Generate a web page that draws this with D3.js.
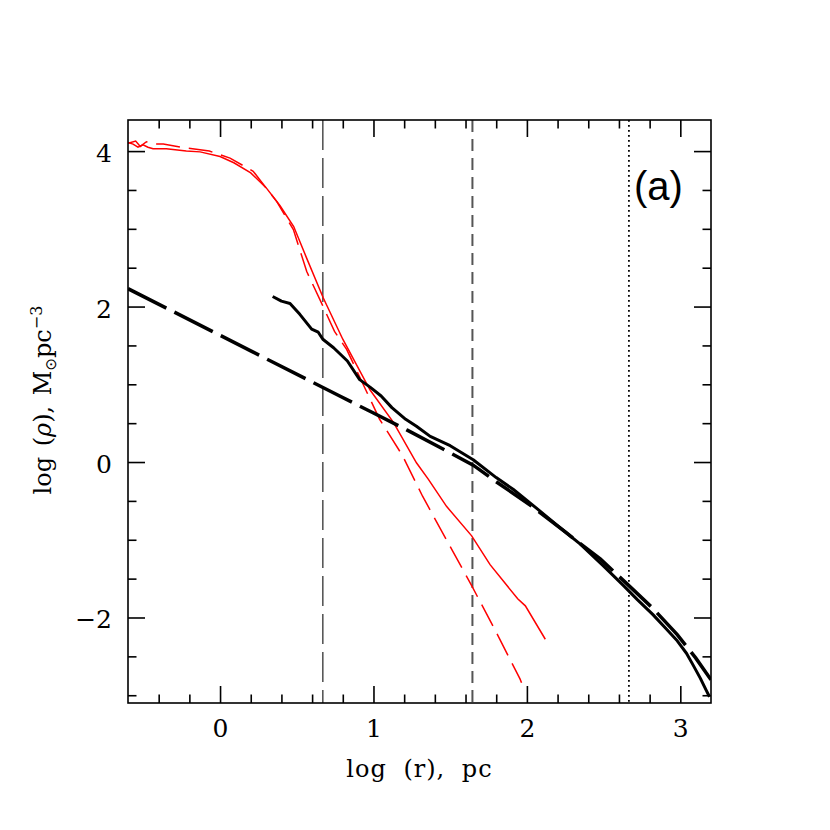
<!DOCTYPE html>
<html>
<head>
<meta charset="utf-8">
<script src="https://cdn.jsdelivr.net/npm/d3@7/dist/d3.min.js"></script>
<style>
body { margin: 0; background: #fff; }
svg text { font-family: "DejaVu Serif", serif; fill: #000; }
</style>
</head>
<body>
<svg id="chart" width="830" height="830"></svg>
<script>
// black long-dashed model profile
var modelX = [-0.6, 0.2, 0.78, 1.0, 1.22, 1.45, 1.65, 1.79, 2.04, 2.25, 2.48, 2.67, 2.82, 2.98, 3.1, 3.2];
var modelY = [2.23, 1.43, 0.85, 0.63, 0.41, 0.17, -0.04, -0.24, -0.58, -0.90, -1.25, -1.60, -1.88, -2.22, -2.52, -2.80];

// black solid profile
var blackX = [0.343, 0.40, 0.456, 0.52, 0.597, 0.64, 0.67, 0.74, 0.83, 0.91, 0.98, 1.05, 1.12, 1.21, 1.28, 1.37, 1.50, 1.65, 1.80, 1.91, 2.06, 2.2, 2.35, 2.5, 2.63, 2.72, 2.82, 2.9, 2.98, 3.04, 3.08, 3.13, 3.17, 3.19];
var blackY = [2.13, 2.07, 2.04, 1.90, 1.71, 1.67, 1.58, 1.47, 1.30, 1.06, 0.96, 0.85, 0.70, 0.55, 0.46, 0.33, 0.21, 0.03, -0.20, -0.35, -0.59, -0.82, -1.06, -1.34, -1.59, -1.77, -1.96, -2.13, -2.30, -2.46, -2.60, -2.78, -2.94, -3.02];

// red solid profile
var redX = [-0.6, -0.567, -0.535, -0.502, -0.47, -0.437, -0.35, -0.22, -0.13, 0.0, 0.09, 0.2, 0.3, 0.39, 0.48, 0.565, 0.673, 0.8, 0.977, 1.13, 1.28, 1.357, 1.476, 1.64, 1.76, 1.94, 1.99, 2.12];
var redY = [4.11, 4.09, 4.05, 4.08, 4.05, 4.03, 4.03, 4.00, 3.99, 3.93, 3.85, 3.72, 3.53, 3.30, 3.03, 2.62, 2.11, 1.58, 0.93, 0.51, -0.01, -0.22, -0.57, -0.95, -1.32, -1.76, -1.85, -2.28];

// red dashed profile
var redDashX = [-0.6, -0.55, -0.52, -0.48, -0.44, -0.37, -0.22, -0.07, 0.065, 0.216, 0.37, 0.478, 0.565, 0.66, 0.746, 0.825, 1.04, 1.19, 1.32, 1.52, 1.64, 1.80, 1.955, 1.965];
var redDashY = [4.10, 4.13, 4.06, 4.12, 4.09, 4.09, 4.04, 4.00, 3.91, 3.74, 3.35, 2.99, 2.45, 2.05, 1.68, 1.45, 0.55, 0.08, -0.44, -1.16, -1.59, -2.19, -2.79, -2.84];

// vertical reference radii
var vLines = [0.67, 1.645, 2.665];

// ticks
var xMajor = [0, 1, 2, 3];
var xMinor = [-0.4, -0.2, 0.2, 0.4, 0.6, 0.8, 1.2, 1.4, 1.6, 1.8, 2.2, 2.4, 2.6, 2.8];
var yMajor = [-2, 0, 2, 4];
var yMinor = [-3, -2.5, -1.5, -1, -0.5, 0.5, 1, 1.5, 2.5, 3, 3.5];

(function() {
var svg = d3.select("#chart");
var pl = 128, pt = 120, pr = 711, pb = 703;

var x = d3.scaleLinear().domain([-0.6, 3.2]).range([pl, pr]);
var y = d3.scaleLinear().domain([-3.1, 4.4]).range([pb, pt]);

function pts(xs, ys) { return xs.map(function(v, i) { return [v, ys[i]]; }); }
var line = d3.line().x(function(d) { return x(d[0]); }).y(function(d) { return y(d[1]); });

svg.append("defs").append("clipPath").attr("id", "clip")
    .append("rect").attr("x", pl).attr("y", pt).attr("width", pr - pl).attr("height", pb - pt);

var plot = svg.append("g").attr("clip-path", "url(#clip)");

// vertical lines
var vStyles = [
    {stroke: "#333", width: 1.3, dash: "30,8"},
    {stroke: "#555", width: 2, dash: "12,7"},
    {stroke: "#000", width: 1.8, dash: "1.8,3.2"}
];
vLines.forEach(function(v, i) {
    plot.append("line")
        .attr("x1", x(v)).attr("x2", x(v))
        .attr("y1", pt).attr("y2", pb)
        .style("stroke", vStyles[i].stroke)
        .style("stroke-width", vStyles[i].width)
        .style("stroke-dasharray", vStyles[i].dash);
});

plot.append("path").datum(pts(redDashX, redDashY))
    .attr("d", line).style("fill", "none").style("stroke", "#ff0000")
    .style("stroke-width", 1.5).style("stroke-dasharray", "24,9");

plot.append("path").datum(pts(redX, redY))
    .attr("d", line).style("fill", "none").style("stroke", "#ff0000")
    .style("stroke-width", 1.5);

plot.append("path").datum(pts(modelX, modelY))
    .attr("d", line).style("fill", "none").style("stroke", "#000")
    .style("stroke-width", 3.5).style("stroke-dasharray", "43,9");

plot.append("path").datum(pts(blackX, blackY))
    .attr("d", line).style("fill", "none").style("stroke", "#000")
    .style("stroke-width", 3).style("stroke-linejoin", "round");

// axes: ticks inside on all four sides
function tickStyle(g) {
    g.select(".domain").remove();
    g.selectAll(".tick line").style("stroke", "#000").style("stroke-width", 1.6);
    g.selectAll(".tick text").style("font-family", "DejaVu Serif").style("font-size", "25px");
}
var fmt = d3.format("d");

svg.append("g").attr("transform", "translate(0," + pb + ")")
    .call(d3.axisBottom(x).tickValues(xMajor).tickSize(-17).tickPadding(16).tickFormat(fmt))
    .call(tickStyle);
svg.append("g").attr("transform", "translate(0," + pb + ")")
    .call(d3.axisBottom(x).tickValues(xMinor).tickSize(-8.5).tickFormat(""))
    .call(tickStyle);
svg.append("g").attr("transform", "translate(0," + pt + ")")
    .call(d3.axisTop(x).tickValues(xMajor).tickSize(-17).tickFormat(""))
    .call(tickStyle);
svg.append("g").attr("transform", "translate(0," + pt + ")")
    .call(d3.axisTop(x).tickValues(xMinor).tickSize(-8.5).tickFormat(""))
    .call(tickStyle);

svg.append("g").attr("transform", "translate(" + pl + ",0)")
    .call(d3.axisLeft(y).tickValues(yMajor).tickSize(-17).tickPadding(16).tickFormat(fmt))
    .call(tickStyle)
    .selectAll(".tick text").attr("dy", "0.42em");
svg.append("g").attr("transform", "translate(" + pl + ",0)")
    .call(d3.axisLeft(y).tickValues(yMinor).tickSize(-8.5).tickFormat(""))
    .call(tickStyle);
svg.append("g").attr("transform", "translate(" + pr + ",0)")
    .call(d3.axisRight(y).tickValues(yMajor).tickSize(-17).tickFormat(""))
    .call(tickStyle);
svg.append("g").attr("transform", "translate(" + pr + ",0)")
    .call(d3.axisRight(y).tickValues(yMinor).tickSize(-8.5).tickFormat(""))
    .call(tickStyle);

// frame
svg.append("rect")
    .attr("x", pl).attr("y", pt).attr("width", pr - pl).attr("height", pb - pt)
    .style("fill", "none").style("stroke", "#000").style("stroke-width", 1.6);

// axis titles
svg.append("text")
    .attr("x", (pl + pr) / 2).attr("y", 777)
    .attr("text-anchor", "middle")
    .style("font-size", "24px").style("word-spacing", "8px").style("letter-spacing", "1px")
    .text("log (r), pc");

var yl = svg.append("text")
    .attr("transform", "translate(51,400) rotate(-90)")
    .attr("text-anchor", "middle")
    .style("font-size", "24px").style("word-spacing", "3px");
yl.append("tspan").text("log (");
yl.append("tspan").style("font-style", "italic").text("ρ");
yl.append("tspan").text("), M");
yl.append("tspan").attr("dy", 5).style("font-size", "15px").style("font-family", "DejaVu Sans").text("⊙");
yl.append("tspan").attr("dy", -5).text("pc");
yl.append("tspan").attr("dy", -9).style("font-size", "16px").text("−3");

// panel tag
svg.append("text")
    .attr("x", 634).attr("y", 200)
    .style("font-family", "Liberation Sans, Arial, sans-serif")
    .style("font-size", "40px")
    .text("(a)");
})();
</script>
</body>
</html>
